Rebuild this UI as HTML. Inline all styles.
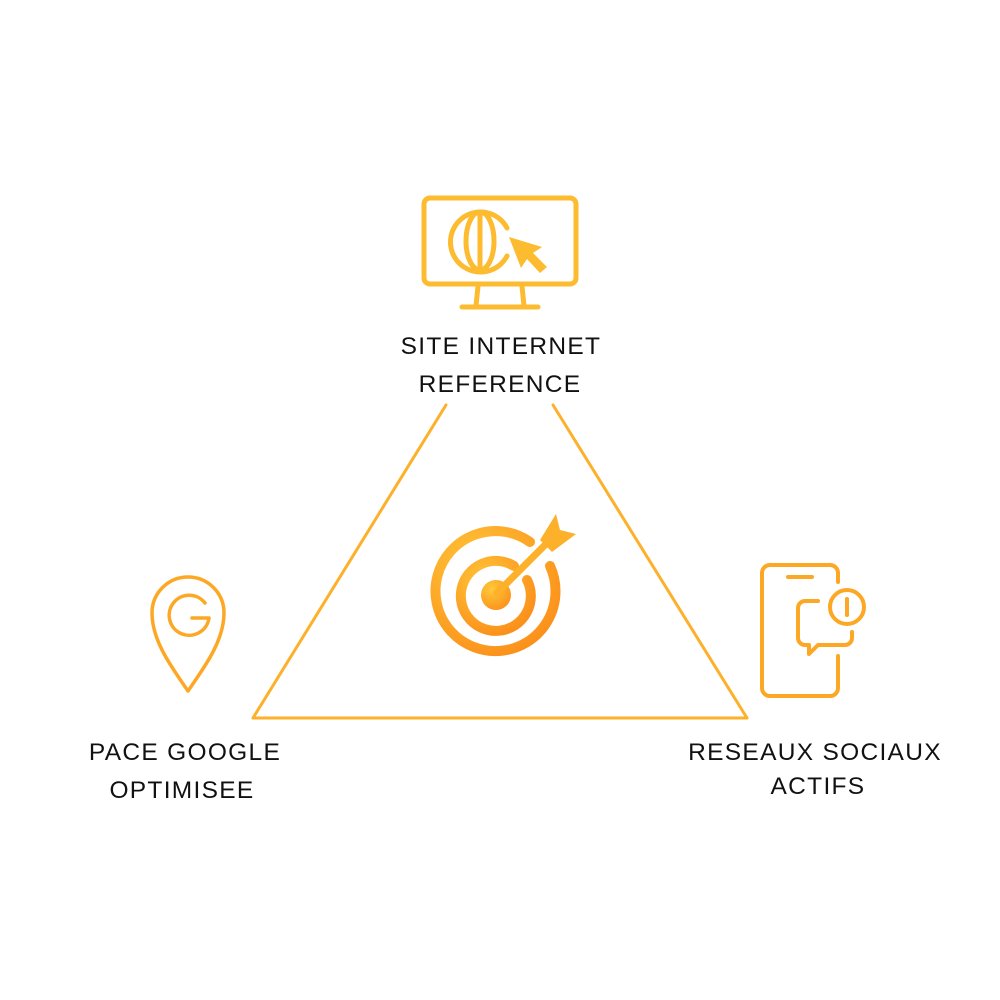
<!DOCTYPE html>
<html><head><meta charset="utf-8"><style>
html,body{margin:0;padding:0;background:#fff;}
.t{position:absolute;font-family:"Liberation Sans",sans-serif;font-size:24.5px;color:#111;letter-spacing:1.3px;text-align:center;white-space:nowrap;line-height:1;transform:translateX(-50%);}
</style></head><body>
<div style="position:relative;width:1000px;height:1000px;overflow:hidden">
<svg width="1000" height="1000" style="position:absolute;left:0;top:0">
<defs>
<radialGradient id="r" cx="0.35" cy="0.3" r="0.8"><stop offset="0" stop-color="#ffc93a"/><stop offset="1" stop-color="#fb8f1a"/></radialGradient>
</defs>
<g stroke="#fdb02a" stroke-width="3" fill="none" stroke-linecap="round">
<line x1="446" y1="405" x2="253" y2="718"/>
<line x1="553" y1="405" x2="747" y2="718"/>
<line x1="253" y1="718" x2="747" y2="718"/>
</g>
<g stroke="#fdbb30" stroke-width="5" fill="none" stroke-linecap="round" stroke-linejoin="round">
<rect x="424" y="198" width="152" height="86" rx="6"/>
<line x1="478" y1="286" x2="476" y2="306"/>
<line x1="522" y1="286" x2="524" y2="306"/>
<line x1="462" y1="307" x2="538" y2="307"/>
<path d="M507 228 A30 30 0 1 0 507 256"/>
<ellipse cx="480" cy="241" rx="14" ry="29"/>
<line x1="480" y1="213" x2="480" y2="270"/>
</g>
<path d="M509 237 L542 247 L533 253 L547 267 L540 273 L527 259 L521 268 Z" fill="#fdbb30"/>
<g fill="none" stroke="url(#r)" stroke-width="10" stroke-linecap="round">
<path d="M530 542 A60 60 0 1 0 550 566"/>
<path d="M514 566 A35 35 0 1 0 527 580"/>
</g>
<circle cx="496" cy="595" r="15" fill="url(#r)"/>
<line x1="497" y1="593" x2="550" y2="540" stroke="#fdb02a" stroke-width="7" stroke-linecap="round"/>
<path d="M540 540 L556 514 L560 530 L576 534 L552 552 Z" fill="#fdb02a"/>
<g stroke="#fca824" stroke-width="3.5" fill="none" stroke-linecap="round" stroke-linejoin="round">
<path d="M188 691 C170 665 152 640 152 613 A36 36 0 0 1 224 613 C224 640 206 665 188 691 Z"/>
<path d="M205 603 A20 20 0 1 0 209 618 L192 618"/>
</g>
<g stroke="#fca824" stroke-width="4" fill="none" stroke-linecap="round" stroke-linejoin="round">
<path d="M838 656 L838 688 A8 8 0 0 1 830 696 L770 696 A8 8 0 0 1 762 688 L762 573 A8 8 0 0 1 770 565 L830 565 A8 8 0 0 1 838 573 L838 582"/>
<line x1="788" y1="577" x2="812" y2="577"/>
<path d="M818 601 L805 601 A7 7 0 0 0 798 608 L798 638 A7 7 0 0 0 805 645 L809 645 L809 654 L818 645 L845 645 A7 7 0 0 0 852 638 L852 632"/>
<circle cx="847" cy="607" r="17"/>
<line x1="847" y1="599" x2="847" y2="615"/>
</g>
</svg>
<div class="t" style="left:501px;top:335px">SITE INTERNET</div>
<div class="t" style="left:500px;top:373px">REFERENCE</div>
<div class="t" style="left:185px;top:741px">PACE GOOGLE</div>
<div class="t" style="left:182px;top:779px">OPTIMISEE</div>
<div class="t" style="left:815px;top:741px">RESEAUX SOCIAUX</div>
<div class="t" style="left:818px;top:775px">ACTIFS</div>
</div>
</body></html>
